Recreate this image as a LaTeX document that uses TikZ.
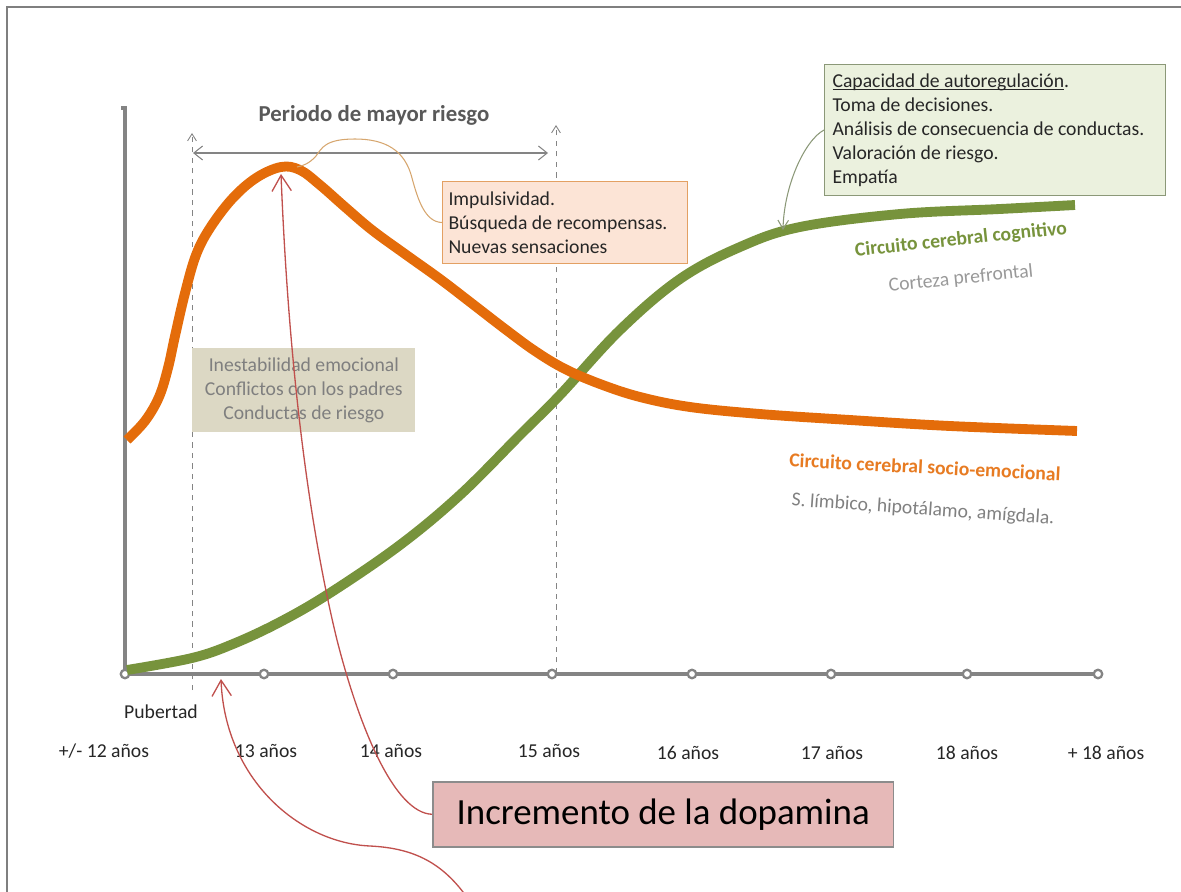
\documentclass[tikz,border=0pt]{standalone}
\usepackage{fontspec}
\setmainfont{Carlito}
\usepackage{tikz}
\usetikzlibrary{arrows.meta}

\definecolor{curveorange}{HTML}{E46C0A}
\definecolor{curvegreen}{HTML}{77933C}
\definecolor{axisgray}{HTML}{848484}
\definecolor{framegray}{HTML}{7F7F7F}
\definecolor{titlegray}{HTML}{595959}
\definecolor{boxpeach}{HTML}{FCE4D6}
\definecolor{peachline}{HTML}{E3A063}
\definecolor{boxsage}{HTML}{EBF1DE}
\definecolor{sageline}{HTML}{8B9878}
\definecolor{boxtan}{HTML}{DCD8C4}
\definecolor{boxpink}{HTML}{E6B9B8}
\definecolor{pinkline}{HTML}{8C8C8C}
\definecolor{dopared}{HTML}{C0504D}
\definecolor{linktan}{HTML}{D6A66E}

\tikzset{
  yearlbl/.style={font=\fontsize{11.2}{13.7}\selectfont, text=black!85},
  tickmark/.style={circle, draw=axisgray, fill=white, line width=1.3pt, minimum size=0.17cm, inner sep=0pt},
  peachbox/.style={draw=peachline, fill=boxpeach, line width=0.6pt, anchor=north west, align=flush left,
    font=\fontsize{11.2}{13.7}\selectfont, text=black!85, text width=4.66cm, inner xsep=0.12cm, minimum height=1.64cm},
  sagebox/.style={draw=sageline, fill=boxsage, line width=0.6pt, anchor=north west, align=flush left,
    font=\fontsize{11.2}{13.7}\selectfont, text=black!85, text width=6.5cm, inner xsep=0.16cm, minimum height=2.62cm},
  tanbox/.style={fill=boxtan, anchor=north west, align=flush center,
    font=\fontsize{11.2}{13.7}\selectfont, text=framegray, text width=4.3cm, inner xsep=0.08cm, minimum height=1.68cm},
  pinkbox/.style={draw=pinkline, fill=boxpink, line width=0.9pt, anchor=north west,
    font=\fontsize{21}{25}\selectfont, text=black, minimum width=9.22cm, minimum height=1.3cm},
  dopalink/.style={draw=dopared, line width=0.75pt, -{Straight Barb[length=9pt,width=11pt]}},
  tanlink/.style={draw=linktan, line width=0.6pt},
  sagelink/.style={draw=sageline, line width=0.6pt, -{Straight Barb[length=5pt,width=6pt]}},
  guide/.style={draw=axisgray, line width=0.5pt, dashed, -{Straight Barb[length=4pt,width=5pt]}},
  bigcurve/.style={line width=5.6pt, line cap=butt, line join=round}
}

\begin{document}
\begin{tikzpicture}[x=0.02cm, y=-0.02cm]
\useasboundingbox (0,0) rectangle (1181,892);

% frame
\draw[framegray, line width=1.1pt] (7,892) -- (7,7) -- (1181,7);

% risk period
\coordinate (gl0) at (192,690);
\coordinate (gl1) at (192,133);
\coordinate (gr0) at (556,673);
\coordinate (gr1) at (556,125);
\draw[guide] (gl0) -- (gl1);
\draw[guide] (gr0) -- (gr1);
\coordinate (rl) at (193,153);
\coordinate (rr) at (548,153);
\draw[axisgray, line width=0.6pt, {Straight Barb[length=5pt,width=8pt]}-{Straight Barb[length=5pt,width=8pt]}] (rl) -- (rr);
\node[font=\fontsize{13}{15}\selectfont\bfseries, text=titlegray] at (374,115) (period) {Periodo de mayor riesgo};

% axes
\coordinate (ax0) at (125,674);
\coordinate (ax1) at (1098,674);
\coordinate (ay1) at (125,108);
\draw[axisgray, line width=2pt] (121,108) -- (ay1) -- (ax0) -- (ax1);

\node[tickmark] at (125,674)  (t0) {};
\node[tickmark] at (264,674)  (t1) {};
\node[tickmark] at (393,674)  (t2) {};
\node[tickmark] at (552,674)  (t3) {};
\node[tickmark] at (692,674)  (t4) {};
\node[tickmark] at (831,674)  (t5) {};
\node[tickmark] at (967,674)  (t6) {};
\node[tickmark] at (1098,674) (t7) {};

\node[yearlbl] at (161,712)  (pub) {Pubertad};
\node[yearlbl] at (104,751)  (y0) {+/- 12 años};
\node[yearlbl] at (266,751)  (y1) {13 años};
\node[yearlbl] at (391,751)  (y2) {14 años};
\node[yearlbl] at (549,751)  (y3) {15 años};
\node[yearlbl] at (688,753)  (y4) {16 años};
\node[yearlbl] at (832,753)  (y5) {17 años};
\node[yearlbl] at (967,753)  (y6) {18 años};
\node[yearlbl] at (1106,753) (y7) {+ 18 años};

% curves
\draw[bigcurve, curvegreen] plot[smooth, tension=0.6] coordinates {
  (127,670) (192,658) (233,644) (280,622) (330,593) (400,545) (460,495) (520,435)
  (560,395) (620,330) (680,279) (740,247) (800,227) (900,214) (1000,209) (1075,205)};
\draw[bigcurve, curveorange] plot[smooth, tension=0.6] coordinates {
  (127,440) (145,421) (159,397) (168,368) (175,336) (185,293) (196,255) (210,228)
  (232,199) (256,178) (281,167) (300,170) (320,185) (345,207) (372,230) (405,254)
  (440,279) (470,302) (505,329) (535,351) (565,369) (600,384) (640,397) (690,407)
  (760,414) (850,420) (950,426) (1077,431)};

\node[font=\fontsize{11.2}{13.7}\selectfont\bfseries, text=curvegreen, rotate=6] at (961,240) (cognlbl) {Circuito cerebral cognitivo};
\node[font=\fontsize{11.2}{13.7}\selectfont, text=black!40, rotate=6] at (961,279) (pfclbl) {Corteza prefrontal};
\node[font=\fontsize{11.2}{13.7}\selectfont\bfseries, text=curveorange!90, rotate=-3] at (925,467) (sociolbl) {Circuito cerebral socio-emocional};
\node[font=\fontsize{11.2}{13.7}\selectfont, text=black!50, rotate=-4] at (923,510) (limblbl) {S. límbico, hipotálamo, amígdala.};

% boxes
\node[tanbox] at (192,348) (emoc) {Inestabilidad emocional\\ Conflictos con los padres\\ Conductas de riesgo};
\node[peachbox] at (442,181) (impuls) {Impulsividad.\\ Búsqueda de recompensas.\\ Nuevas sensaciones};
\node[sagebox] at (824,64) (capac) {\vphantom{Capacidad}\underline{\smash{Capacidad de autoregulación}}.\\ Toma de decisiones.\\ Análisis de consecuencia de conductas.\\ Valoración de riesgo.\\ Empatía};
\node[pinkbox] at (432,781) (dopa) {Incremento de la dopamina};

% connectors
\coordinate (peak) at (281,174);
\coordinate (peakr) at (297,167);
\coordinate (cogn) at (783,230);
\coordinate (pubtip) at (221,679);
\coordinate (dopaend) at (466,896);

\draw[tanlink] (impuls.west) .. controls (425,222) and (418,200) .. (412,178)
  .. controls (405,150) and (385,139) .. (355,139)
  .. controls (325,139) and (322,148) .. (316,156)
  .. controls (310,163) and (303,166) .. (peakr);
\draw[sagelink] (capac.west) .. controls (805,140) and (784,185) .. (cogn);
\draw[dopalink] (dopa.west) .. controls (395,813) and (360,730) .. (337,640)
  .. controls (315,550) and (290,400) .. (peak);
\draw[dopalink] (dopaend) .. controls (440,860) and (410,848) .. (370,846)
  .. controls (300,843) and (225,780) .. (pubtip);
\end{tikzpicture}
\end{document}
